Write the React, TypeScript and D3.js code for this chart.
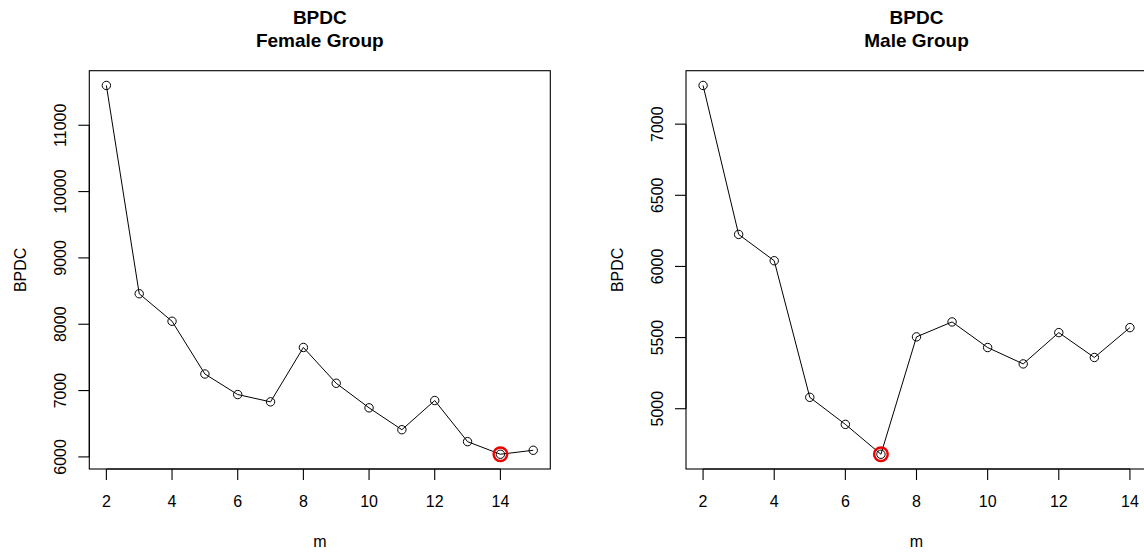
import React from "react";
import * as d3 from "d3";

const femaleM = [2, 3, 4, 5, 6, 7, 8, 9, 10, 11, 12, 13, 14, 15];
const femaleBPDC = [11600, 8460, 8045, 7250, 6940, 6830, 7650, 7110, 6740, 6410, 6850, 6230, 6040, 6100];
const femaleTicksX = [2, 4, 6, 8, 10, 12, 14];
const femaleTicksY = [6000, 7000, 8000, 9000, 10000, 11000];

const maleM = [2, 3, 4, 5, 6, 7, 8, 9, 10, 11, 12, 13, 14];
const maleBPDC = [7272, 6225, 6040, 5080, 4890, 4680, 5505, 5610, 5430, 5315, 5535, 5360, 5570];
const maleTicksX = [2, 4, 6, 8, 10, 12, 14];
const maleTicksY = [5000, 5500, 6000, 6500, 7000];

const titleMain = "BPDC";
const femaleSub = "Female Group";
const maleSub = "Male Group";
const xLabel = "m";
const yLabel = "BPDC";

const FONT = "'Liberation Sans', Arial, Helvetica, sans-serif";

function ext(vals: number[]): [number, number] {
  const [a, b] = d3.extent(vals) as [number, number];
  const d = (b - a) * 0.04;
  return [a - d, b + d];
}

interface PanelProps {
  left: number;
  xs: number[];
  ys: number[];
  ticksX: number[];
  ticksY: number[];
  sub: string;
}

function Panel({ left, xs, ys, ticksX, ticksY, sub }: PanelProps) {
  const W = 461;
  const top = 70.7;
  const bottom = 469;
  const x = d3.scaleLinear().domain(ext(xs)).range([left, left + W]);
  const y = d3.scaleLinear().domain(ext(ys)).range([bottom, top]);
  const line = d3
    .line<number>()
    .x((_, i) => x(xs[i]))
    .y((d) => y(d));
  const minIdx = d3.minIndex(ys);
  const cx = left + W / 2;
  const tl = 11;
  return (
    <g>
      <rect x={left} y={top} width={W} height={bottom - top} fill="none" stroke="#000" strokeWidth={1.1} />
      {/* x axis */}
      <line x1={x(ticksX[0])} x2={x(ticksX[ticksX.length - 1])} y1={bottom} y2={bottom} stroke="#000" strokeWidth={1.1} />
      {ticksX.map((t) => (
        <g key={"x" + t}>
          <line x1={x(t)} x2={x(t)} y1={bottom} y2={bottom + tl} stroke="#000" strokeWidth={1.1} />
          <text x={x(t)} y={507} textAnchor="middle" fontSize={16} fontFamily={FONT}>
            {t}
          </text>
        </g>
      ))}
      {/* y axis */}
      <line x1={left} x2={left} y1={y(ticksY[0])} y2={y(ticksY[ticksY.length - 1])} stroke="#000" strokeWidth={1.1} />
      {ticksY.map((t) => (
        <g key={"y" + t}>
          <line x1={left - tl} x2={left} y1={y(t)} y2={y(t)} stroke="#000" strokeWidth={1.1} />
          <text
            transform={`translate(${left - 23},${y(t)}) rotate(-90)`}
            textAnchor="middle"
            fontSize={16}
            fontFamily={FONT}
          >
            {t}
          </text>
        </g>
      ))}
      <path d={line(ys) || ""} fill="none" stroke="#000" strokeWidth={1} />
      {ys.map((v, i) => (
        <circle key={"p" + i} cx={x(xs[i])} cy={y(v)} r={4.2} fill="none" stroke="#000" strokeWidth={1} />
      ))}
      <circle cx={x(xs[minIdx])} cy={y(ys[minIdx])} r={6.8} fill="none" stroke="#ee0000" strokeWidth={2.4} />
      <text x={cx} y={24} textAnchor="middle" fontSize={19} fontWeight="bold" fontFamily={FONT}>
        {titleMain}
      </text>
      <text x={cx} y={46.5} textAnchor="middle" fontSize={19} fontWeight="bold" fontFamily={FONT}>
        {sub}
      </text>
      <text x={cx} y={547} textAnchor="middle" fontSize={16} fontFamily={FONT}>
        {xLabel}
      </text>
      <text
        transform={`translate(${left - 63},${(top + bottom) / 2}) rotate(-90)`}
        textAnchor="middle"
        fontSize={16}
        fontFamily={FONT}
      >
        {yLabel}
      </text>
    </g>
  );
}

export default function App() {
  return (
    <svg
      width={1144}
      height={560}
      style={{ position: "absolute", left: 0, top: 0, background: "#fff" }}
    >
      <rect x={0} y={0} width={1144} height={560} fill="#fff" />
      <Panel left={89.3} xs={femaleM} ys={femaleBPDC} ticksX={femaleTicksX} ticksY={femaleTicksY} sub={femaleSub} />
      <Panel left={686} xs={maleM} ys={maleBPDC} ticksX={maleTicksX} ticksY={maleTicksY} sub={maleSub} />
    </svg>
  );
}
